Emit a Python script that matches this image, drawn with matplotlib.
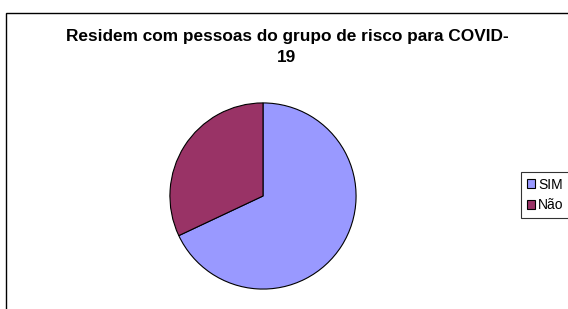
import matplotlib.pyplot as plt
from matplotlib.patches import Rectangle

labels = ['SIM', 'Não']
values = [68, 32]
colors = ['#9999FF', '#993366']
title = 'Residem com pessoas do grupo de risco para COVID-\n19'

W, H = 568, 309
fig = plt.figure(figsize=(W / 100, H / 100), dpi=100)
plt.rcParams['font.family'] = ['Liberation Sans', 'DejaVu Sans']

# chart frame (right and bottom edges run off the image)
fig.patches.append(Rectangle((5.5 / W, -0.05), 1.2, 1 - 12.5 / H + 0.05,
                             transform=fig.transFigure, fill=False,
                             edgecolor='black', linewidth=1.0))

fig.text(287 / W, 1 - 47.5 / H, title, ha='center', va='center',
         fontsize=12.4, fontweight='bold', linespacing=1.5)

r = 94
cx, cy = 263, 196
ax = fig.add_axes([(cx - r) / W, 1 - (cy + r) / H, 2 * r / W, 2 * r / H])
wedges, _ = ax.pie(values, colors=colors, startangle=90, counterclock=False,
                   wedgeprops=dict(edgecolor='black', linewidth=0.8))
ax.set_xlim(-1.01, 1.01)
ax.set_ylim(-1.01, 1.01)
ax.set_aspect('equal')

leg = fig.legend(wedges, labels, loc='center left',
                 bbox_to_anchor=(521 / W, 1 - 195 / H),
                 fontsize=10, frameon=True, fancybox=False,
                 handlelength=0.6, handleheight=0.6, handletextpad=0.25,
                 borderpad=0.4, labelspacing=0.5, borderaxespad=0)
leg.get_frame().set_edgecolor('black')
leg.get_frame().set_linewidth(0.8)

fig.savefig('out.png', dpi=100)
